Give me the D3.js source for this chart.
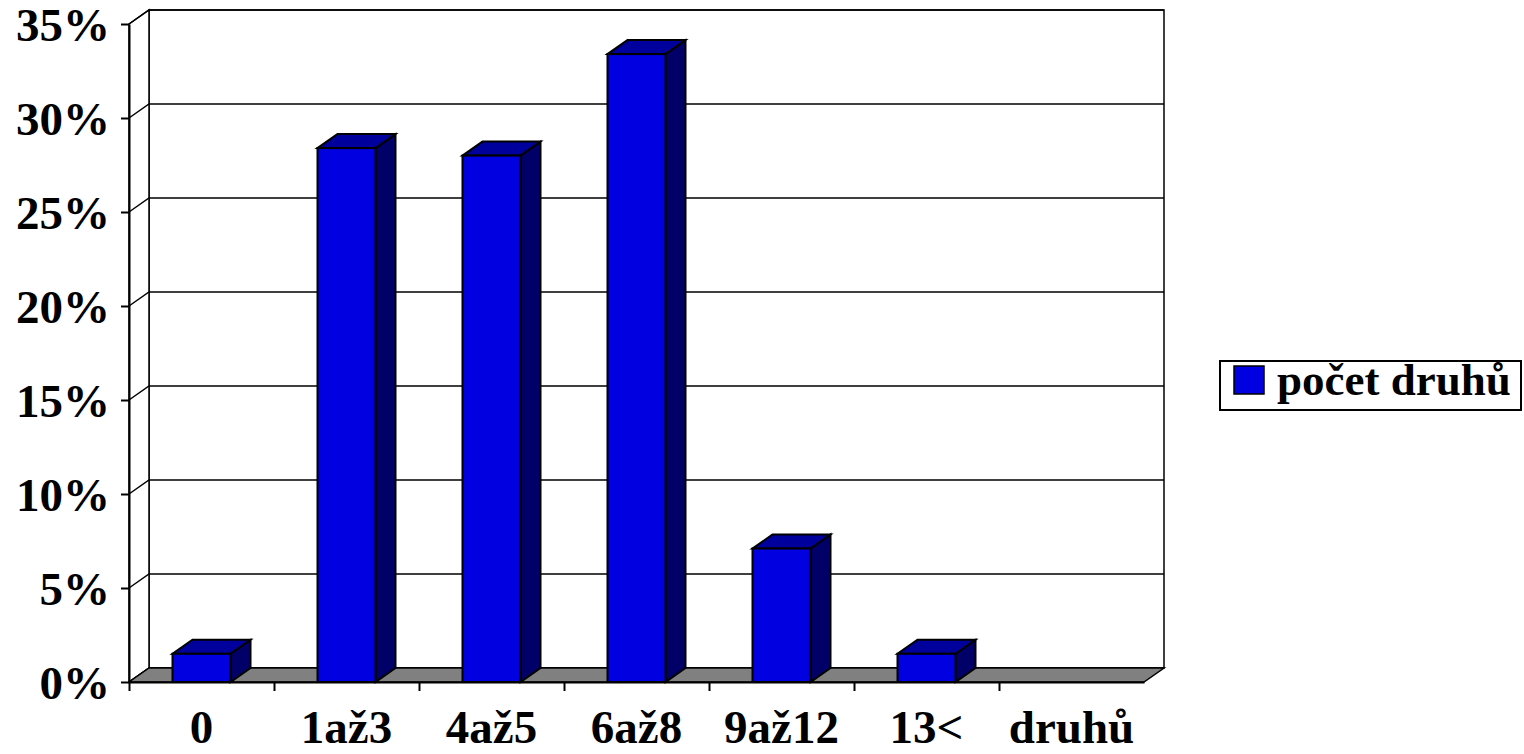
<!DOCTYPE html>
<html>
<head>
<meta charset="utf-8">
<script src="https://cdn.jsdelivr.net/npm/d3@7"></script>
<style>
  html, body { margin: 0; padding: 0; background: #fff; }
  svg { display: block; }
  text { font-family: "Liberation Serif", "Times New Roman", serif; font-weight: bold; fill: #000; }
</style>
</head>
<body>
<svg id="chart" width="1524" height="754"></svg>
<script>
// Share of respondents by number of species
const categories = ["0", "1až3", "4až5", "6až8", "9až12", "13<", "druhů"];
const values = [0.015, 0.284, 0.280, 0.334, 0.071, 0.015, 0];
const yTicks = [0, 0.05, 0.10, 0.15, 0.20, 0.25, 0.30, 0.35];
const seriesName = "počet druhů";

const svg = d3.select("#chart");

// front plane of the 3D box and depth offset to the back wall
const plotLeft = 129, plotRight = 1144, plotBottom = 682, plotTop = 24;
const dx = 20, dy = -14;
const axisFont = 47;
const serif = "'Liberation Serif', 'Times New Roman', serif";

const x = d3.scaleBand().domain(categories).range([plotLeft, plotRight]).padding(0);
const xEdge = d3.scaleLinear().domain([0, categories.length]).range([plotLeft, plotRight]);
const y = d3.scaleLinear().domain([0, 0.35]).range([plotBottom, plotTop]);

const colors = { front: "#0000E0", top: "#00009C", side: "#000068", floor: "#808080" };

const pts = p => p.map(q => q.join(",")).join(" ");

// back wall
svg.append("polygon")
  .attr("points", pts([[plotLeft + dx, plotTop + dy], [plotRight + dx, plotTop + dy], [plotRight + dx, plotBottom + dy], [plotLeft + dx, plotBottom + dy]]))
  .attr("fill", "#fff").attr("stroke", "#000").attr("stroke-width", 1.5);

// left side wall
svg.append("polygon")
  .attr("points", pts([[plotLeft, plotTop], [plotLeft + dx, plotTop + dy], [plotLeft + dx, plotBottom + dy], [plotLeft, plotBottom]]))
  .attr("fill", "#fff").attr("stroke", "#000").attr("stroke-width", 1.5);

// gridlines on both walls
const grid = svg.append("g").attr("stroke", "#000").attr("stroke-width", 1.5).attr("fill", "none");
yTicks.forEach(v => {
  grid.append("polyline")
    .attr("points", pts([[plotLeft, y(v)], [plotLeft + dx, y(v) + dy], [plotRight + dx, y(v) + dy]]));
});

// floor
svg.append("polygon")
  .attr("points", pts([[plotLeft, plotBottom], [plotRight, plotBottom], [plotRight + dx, plotBottom + dy], [plotLeft + dx, plotBottom + dy]]))
  .attr("fill", colors.floor).attr("stroke", "#000").attr("stroke-width", 1.5);

// 3D columns
const barW = x.bandwidth() * 0.4;
const bars = svg.append("g").attr("stroke", "#000").attr("stroke-width", 2).attr("stroke-linejoin", "miter");
categories.forEach((c, i) => {
  const v = values[i];
  if (v <= 0) return;
  const x0 = x(c) + (x.bandwidth() - barW) / 2;
  const x1 = x0 + barW;
  const yt = y(v), yb = y(0);
  const g = bars.append("g");
  g.append("polygon").attr("fill", colors.side)
    .attr("points", pts([[x1, yt], [x1 + dx, yt + dy], [x1 + dx, yb + dy], [x1, yb]]));
  g.append("polygon").attr("fill", colors.top)
    .attr("points", pts([[x0, yt], [x1, yt], [x1 + dx, yt + dy], [x0 + dx, yt + dy]]));
  g.append("rect").attr("fill", colors.front)
    .attr("x", x0).attr("y", yt).attr("width", barW).attr("height", yb - yt);
});

// value axis
const yAxis = svg.append("g").attr("transform", `translate(${plotLeft},0)`)
  .call(d3.axisLeft(y).tickValues(yTicks).tickFormat(d3.format(".0%")).tickSize(8).tickSizeOuter(0));
yAxis.select(".domain").attr("stroke", "#000").attr("stroke-width", 2);
yAxis.selectAll(".tick line").attr("stroke", "#000").attr("stroke-width", 2);
yAxis.selectAll(".tick text")
  .attr("font-size", axisFont).attr("font-family", serif)
  .attr("font-weight", "bold").attr("dy", "0.35em").attr("x", -19);

// category axis: ticks at category boundaries
const xTickAxis = svg.append("g").attr("transform", `translate(0,${plotBottom})`)
  .call(d3.axisBottom(xEdge).tickValues(d3.range(categories.length)).tickSize(9).tickSizeOuter(0).tickFormat(""));
xTickAxis.select(".domain").attr("stroke", "#000").attr("stroke-width", 2);
xTickAxis.selectAll(".tick line").attr("stroke", "#000").attr("stroke-width", 2);

// category labels at band centres
const xLabelAxis = svg.append("g").attr("transform", `translate(0,${plotBottom})`)
  .call(d3.axisBottom(x).tickSize(0).tickPadding(0));
xLabelAxis.select(".domain").remove();
xLabelAxis.selectAll(".tick text")
  .attr("font-size", axisFont).attr("font-family", serif)
  .attr("font-weight", "bold").attr("y", 61).attr("dy", 0);

// legend
const legend = svg.append("g");
legend.append("rect").attr("x", 1220).attr("y", 361).attr("width", 301).attr("height", 49)
  .attr("fill", "#fff").attr("stroke", "#000").attr("stroke-width", 2);
legend.append("rect").attr("x", 1234).attr("y", 366).attr("width", 30).attr("height", 28)
  .attr("fill", colors.front).attr("stroke", "#000").attr("stroke-width", 1.5);
legend.append("text").attr("x", 1277).attr("y", 395).attr("font-size", 45).text(seriesName);
</script>
</body>
</html>
